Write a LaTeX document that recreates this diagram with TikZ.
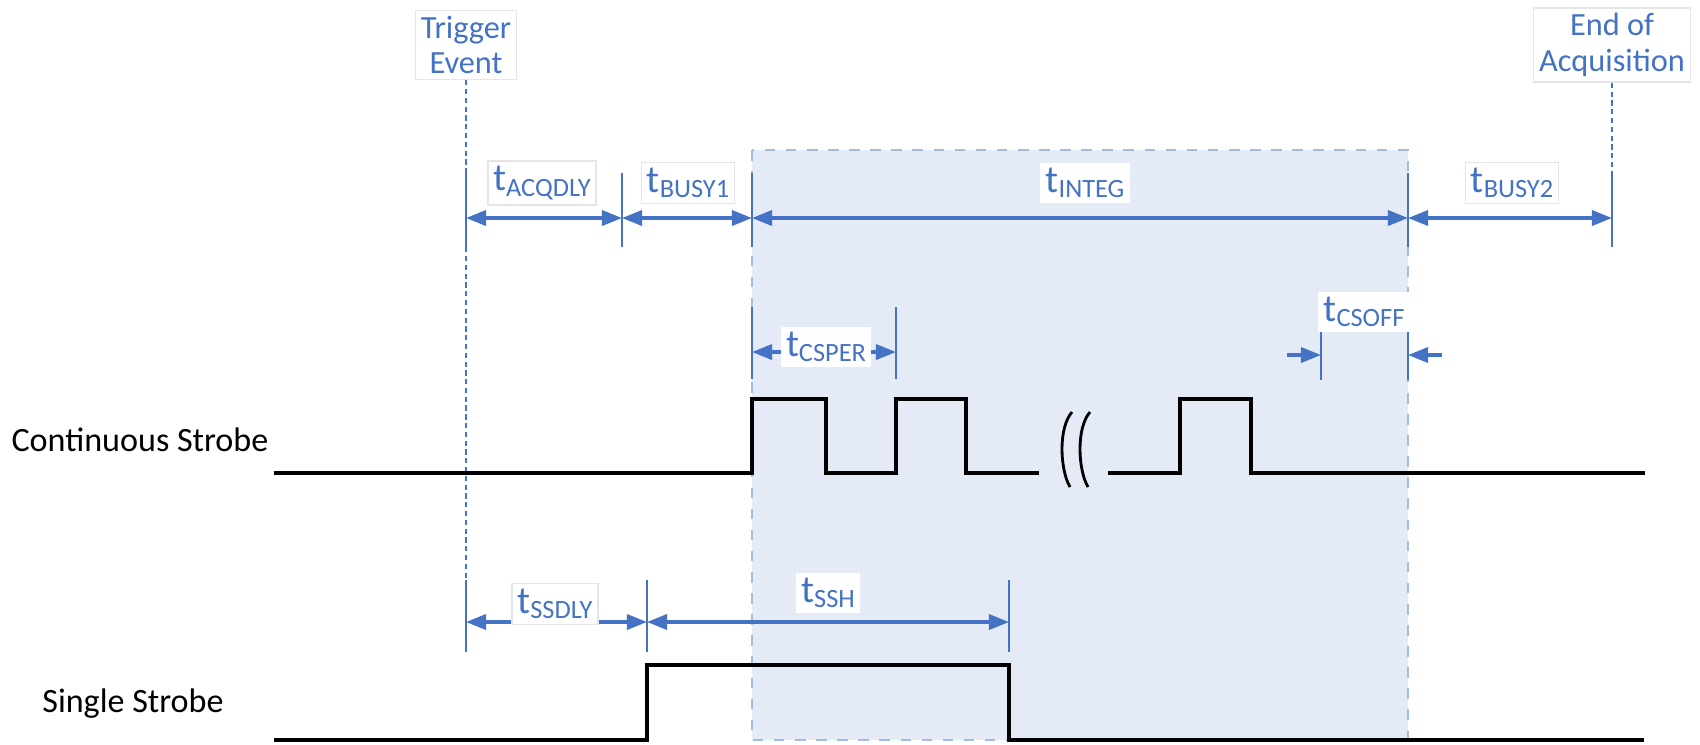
\documentclass[tikz,border=0pt]{standalone}
\usepackage{fontspec}
\setmainfont{Carlito}
\usetikzlibrary{arrows.meta}
\definecolor{lineblue}{RGB}{68,114,196}
\definecolor{integfill}{RGB}{228,235,247}
\definecolor{integedge}{RGB}{165,188,226}
\newcommand{\tsub}[1]{{\fontsize{11}{12}\selectfont t}\raisebox{-1.6pt}{\fontsize{7.5}{8}\selectfont #1}}

\begin{document}
\begin{tikzpicture}[
  x=0.01cm, y=-0.01cm,
  every node/.style={font=\fontsize{9.2}{10.2}\selectfont, text=lineblue},
  marker/.style={draw=gray!20, fill=white, align=center, inner sep=1.5pt},
  tlabel/.style={fill=white, inner sep=1.5pt},
  tick/.style={draw=lineblue, line width=0.8pt},
  span/.style={{Triangle[length=5.7pt,width=4.3pt]}-{Triangle[length=5.7pt,width=4.3pt]}, draw=lineblue, line width=0.9pt},
  inward/.style={-{Triangle[length=5.7pt,width=4.3pt]}, draw=lineblue, line width=0.9pt},
  guide/.style={draw=lineblue, line width=0.7pt, dash pattern=on 1.5pt off 1pt},
  wave/.style={draw=black, line width=1pt},
  signame/.style={text=black, font=\fontsize{9.7}{11}\selectfont}
]
  \useasboundingbox (0,0) rectangle (1700,744);

  \fill[integfill] (752,150) rectangle (1408,740);
  \draw[integedge, dashed, line width=0.5pt] (752,150) rectangle (1408,740);

  \node[marker] (trig) at (466,45)  {Trigger\\Event};
  \node[marker] (eoa)  at (1612,45) {End of\\Acquisition};

  \draw[guide] (trig.south) -- (466,580);
  \draw[guide] (eoa.south) -- (1612,173);

  \foreach \i/\x in {0/466,1/622,2/752,3/1408,4/1612} {
    \coordinate (a\i) at (\x,218);
    \draw[tick] (\x,173) -- (\x,247);
  }
  \foreach \i/\j in {0/1,1/2,2/3,3/4} \draw[span] (a\i) -- (a\j);

  \node[tlabel, draw=gray!20] (acqdly) at (542,183)  {\tsub{ACQDLY}};
  \node[tlabel, draw=gray!20] (busya)  at (688,183)  {\tsub{BUSY1}};
  \node[tlabel]               (integ)  at (1085,183) {\tsub{INTEG}};
  \node[tlabel, draw=gray!20] (busyb)  at (1512,183) {\tsub{BUSY2}};

  \foreach \i/\x in {0/752,1/896} {
    \coordinate (c\i) at (\x,352);
    \draw[tick] (\x,307) -- (\x,379);
  }
  \draw[span] (c0) -- (c1);
  \node[tlabel] (csper) at (826,347) {\tsub{CSPER}};

  \foreach \i/\x in {0/1321,1/1408} {
    \coordinate (o\i) at (\x,355);
    \draw[tick] (\x,310) -- (\x,380);
  }
  \coordinate (ow) at (1287,355);
  \coordinate (oe) at (1442,355);
  \draw[inward] (ow) -- (o0);
  \draw[inward] (oe) -- (o1);
  \node[tlabel] (csoff) at (1364,312) {\tsub{CSOFF}};

  \foreach \i/\x in {0/466,1/647,2/1009} {
    \coordinate (s\i) at (\x,622);
    \draw[tick] (\x,580) -- (\x,652);
  }
  \draw[span] (s0) -- (s1);
  \draw[span] (s1) -- (s2);
  \node[tlabel, draw=gray!20] (ssdly) at (555,604) {\tsub{SSDLY}};
  \node[tlabel]               (ssh)   at (828,593) {\tsub{SSH}};

  \node[signame] (cs) at (140,440) {Continuous Strobe};
  \node[signame] (ss) at (133,704) {Single Strobe};

  \draw[wave] (274,473) -- (752,473) -- (752,399) -- (826,399) -- (826,473) -- (896,473)
    -- (896,399) -- (966,399) -- (966,473) -- (1039,473);
  \draw[wave] (1108,473) -- (1180,473) -- (1180,399) -- (1251,399) -- (1251,473) -- (1645,473);
  \foreach \dx in {0,18}
    \draw[black, line width=0.8pt] (1072+\dx,412) .. controls (1058+\dx,428) and (1060+\dx,470) .. (1070+\dx,487);

  \draw[wave] (274,740) -- (647,740) -- (647,665) -- (1009,665) -- (1009,740) -- (1644,740);
\end{tikzpicture}
\end{document}
